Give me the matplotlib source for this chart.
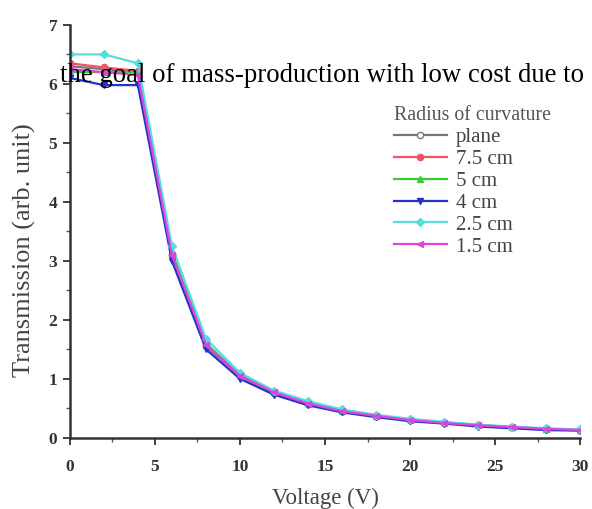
import matplotlib
matplotlib.use("Agg")
import matplotlib.pyplot as plt
from matplotlib.ticker import MultipleLocator

voltage = [0, 2, 4, 6, 8, 10, 12, 14, 16, 18, 20, 22, 24, 26, 28, 30]
plane = [6.30, 6.25, 6.20, 3.10, 1.55, 1.05, 0.76, 0.58, 0.45, 0.37, 0.30, 0.25, 0.21, 0.18, 0.15, 0.13]
r7_5 = [6.35, 6.28, 6.22, 3.10, 1.58, 1.05, 0.77, 0.58, 0.45, 0.37, 0.30, 0.25, 0.21, 0.18, 0.15, 0.13]
r5 = [6.20, 6.20, 6.20, 3.15, 1.60, 1.07, 0.78, 0.59, 0.46, 0.37, 0.31, 0.26, 0.22, 0.18, 0.15, 0.13]
r4 = [6.10, 5.98, 5.98, 3.00, 1.50, 1.00, 0.73, 0.55, 0.43, 0.35, 0.28, 0.24, 0.19, 0.16, 0.13, 0.12]
r2_5 = [6.50, 6.50, 6.35, 3.25, 1.68, 1.10, 0.80, 0.62, 0.48, 0.39, 0.32, 0.27, 0.22, 0.19, 0.16, 0.14]
r1_5 = [6.25, 6.20, 6.15, 3.10, 1.58, 1.05, 0.77, 0.58, 0.45, 0.37, 0.30, 0.25, 0.21, 0.18, 0.15, 0.13]
labels = ["plane", "7.5 cm", "5 cm", "4 cm", "2.5 cm", "1.5 cm"]

plt.rcParams['font.family'] = ['Liberation Serif', 'DejaVu Serif']

fig = plt.figure(figsize=(5.92, 5.09), dpi=100)
ax = fig.add_axes([0.118, 0.140, 0.862, 0.811])

styles = [
    dict(color="#777777", marker="o", mfc="white", mec="#777777"),
    dict(color="#ee5566", marker="o", mfc="#ee5566", mec="#ee5566"),
    dict(color="#33cc33", marker="^", mfc="#33cc33", mec="#33cc33"),
    dict(color="#2233cc", marker="v", mfc="#2233cc", mec="#2233cc"),
    dict(color="#55dddd", marker="D", mfc="#55dddd", mec="#55dddd"),
    dict(color="#dd44dd", marker="<", mfc="#dd44dd", mec="#dd44dd"),
]
series = [plane, r7_5, r5, r4, r2_5, r1_5]
for y, lab, st in zip(series, labels, styles):
    ax.plot(voltage, y, label=lab, lw=1.6, ms=4.5, **st)

ax.set_xlim(0, 30)
ax.set_ylim(0, 7)
ax.xaxis.set_major_locator(MultipleLocator(5))
ax.xaxis.set_minor_locator(MultipleLocator(2.5))
ax.yaxis.set_major_locator(MultipleLocator(1))
ax.yaxis.set_minor_locator(MultipleLocator(0.5))
for s in ["top", "right"]:
    ax.spines[s].set_visible(False)
for s in ["left", "bottom"]:
    ax.spines[s].set_linewidth(1.8)
    ax.spines[s].set_color("#333333")
ax.tick_params(which="major", direction="out", length=5, width=1.3, colors="#333333", labelsize=12.5)
ax.tick_params(axis="x", which="major", pad=10)
ax.tick_params(axis="y", which="major", pad=4)
ax.tick_params(which="minor", direction="out", length=3, width=1.0, colors="#555555")
for t in ax.get_xticklabels() + ax.get_yticklabels():
    t.set_fontweight("bold")
    t.set_color("#333333")

ax.set_xlabel("Voltage (V)", fontsize=16.5, color="#444444")
ax.xaxis.set_label_coords(0.5, -0.121)
ax.set_ylabel("Transmission (arb. unit)", fontsize=19, color="#444444")
ax.yaxis.set_label_coords(-0.067, 0.455)

leg = ax.legend(title="Radius of curvature", loc="upper left", bbox_to_anchor=(0.606, 0.838),
                frameon=False, fontsize=15, title_fontsize=14.3, handlelength=2.55,
                handletextpad=0.45, labelspacing=0.11, borderpad=0.2)
leg._legend_box.align = "left"
for t in leg.get_texts():
    t.set_color("#444444")
leg.get_title().set_color("#555555")

fig.text(0.101, 0.838, "the goal of mass-production with low cost due to",
         fontsize=19.3, color="black", ha="left", va="baseline")

fig.savefig("out.png", dpi=100)
